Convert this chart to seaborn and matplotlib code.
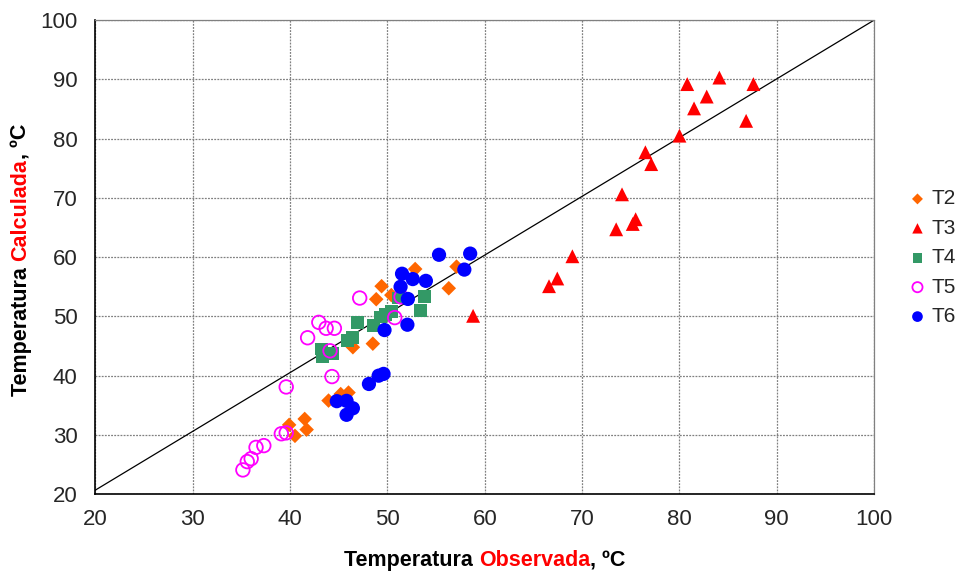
import matplotlib
matplotlib.use('Agg')
import matplotlib.pyplot as plt
import seaborn as sns
import pandas as pd

t2_obs = [52.85, 57.1, 56.3, 49.4, 48.85, 50.4, 46.45, 48.5, 43.95, 45.2, 46.0, 39.9, 41.5, 41.7, 40.5]
t2_calc = [58.0, 58.4, 54.75, 55.1, 52.9, 53.6, 44.8, 45.4, 35.8, 36.9, 37.15, 31.7, 32.7, 30.9, 29.85]

t3_obs = [80.8, 84.1, 87.6, 82.8, 81.5, 86.85, 80.0, 76.5, 77.1, 74.1, 75.5, 75.2, 73.5, 69.0, 67.45, 66.6, 58.8]
t3_calc = [89.2, 90.3, 89.2, 87.1, 85.1, 83.0, 80.5, 77.7, 75.7, 70.6, 66.4, 65.6, 64.7, 60.15, 56.4, 55.1, 50.1]

t4_obs = [43.2, 43.3, 44.4, 45.9, 46.45, 46.95, 48.6, 49.3, 49.8, 50.4, 51.15, 53.4, 53.8]
t4_calc = [44.5, 43.3, 43.8, 46.0, 46.5, 49.0, 48.4, 49.9, 50.3, 50.8, 53.1, 51.0, 53.3]

t5_obs = [47.15, 51.4, 50.75, 42.95, 43.7, 44.55, 41.8, 44.1, 44.3, 39.6, 39.1, 39.6, 37.3, 36.5, 36.0, 35.6, 35.15]
t5_calc = [53.1, 53.3, 49.8, 49.0, 48.0, 48.0, 46.4, 44.2, 39.85, 38.1, 30.2, 30.35, 28.2, 27.9, 26.0, 25.5, 24.1]

t6_obs = [55.3, 58.5, 57.9, 51.5, 52.6, 53.95, 51.35, 52.1, 52.05, 49.7, 49.6, 49.1, 48.1, 44.8, 45.8, 46.45, 45.8]
t6_calc = [60.4, 60.6, 57.9, 57.2, 56.3, 56.0, 55.0, 52.95, 48.6, 47.7, 40.3, 40.0, 38.6, 35.7, 35.75, 34.5, 33.4]

ticks = [20, 30, 40, 50, 60, 70, 80, 90, 100]

sns.set_style('white')
plt.rcParams['font.family'] = ['Liberation Sans', 'DejaVu Sans']

fig = plt.figure(figsize=(9.59, 5.74), dpi=100)
ax = fig.add_axes([0.0995, 0.139, 0.812, 0.826])

series = [
    ('T2', t2_obs, t2_calc, dict(marker='D', color='#FF6600', s=55, edgecolor='none')),
    ('T3', t3_obs, t3_calc, dict(marker='^', color='#FF0000', s=100, edgecolor='none')),
    ('T4', t4_obs, t4_calc, dict(marker='s', color='#339966', s=85, edgecolor='none')),
    ('T5', t5_obs, t5_calc, dict(marker='o', facecolor='none', edgecolor='#FF00FF', s=95, linewidth=1.3)),
    ('T6', t6_obs, t6_calc, dict(marker='o', color='#0000FF', s=105, edgecolor='none')),
]
for name, xs, ys, kw in series:
    df = pd.DataFrame({'obs': xs, 'calc': ys})
    sns.scatterplot(data=df, x='obs', y='calc', label=name, ax=ax, zorder=3, **kw)

# 1:1 line
ax.plot([20, 100], [20.7, 100], color='black', linewidth=0.9, zorder=2)

ax.set_xlim(20, 100)
ax.set_ylim(20, 100)
ax.set_xticks(ticks)
ax.set_yticks(ticks)
ax.tick_params(axis='both', labelsize=16, length=5, width=1, direction='out', color='black')
ax.tick_params(axis='y', pad=8)
ax.tick_params(axis='x', pad=6)
ax.grid(True, color='#808080', linestyle=(0, (1.5, 1)), linewidth=0.9)
for side in ['left', 'bottom']:
    ax.spines[side].set_color('black')
    ax.spines[side].set_linewidth(1.2)
for side in ['top', 'right']:
    ax.spines[side].set_color('#808080')
    ax.spines[side].set_linestyle((0, (1.5, 1)))
    ax.spines[side].set_linewidth(0.9)
ax.set_xlabel('')
ax.set_ylabel('')

leg = ax.legend(loc='center left', bbox_to_anchor=(0.948, 0.551), bbox_transform=fig.transFigure,
                frameon=False, fontsize=15, handlelength=0.8, handletextpad=0.25,
                labelspacing=0.5, markerscale=0.75, borderpad=0, borderaxespad=0)

# axis titles with a red middle word
lab = dict(fontsize=15.5, fontweight='bold')
t1 = fig.text(0.359, 0.005, 'Temperatura ', color='black', va='bottom', ha='left', **lab)
t2 = ax.annotate('Observada', xycoords=t1, xy=(1, 0), va='bottom', ha='left', color='red', **lab)
ax.annotate(', ºC', xycoords=t2, xy=(1, 0), va='bottom', ha='left', color='black', **lab)

v1 = fig.text(0.011, 0.31, 'Temperatura ', color='black', rotation=90, va='bottom', ha='left', **lab)
v2 = ax.annotate('Calculada', xycoords=v1, xy=(0, 1), va='bottom', ha='left', rotation=90, color='red', **lab)
ax.annotate(', ºC', xycoords=v2, xy=(0, 1), va='bottom', ha='left', rotation=90, color='black', **lab)

fig.savefig('out.png', dpi=100)
